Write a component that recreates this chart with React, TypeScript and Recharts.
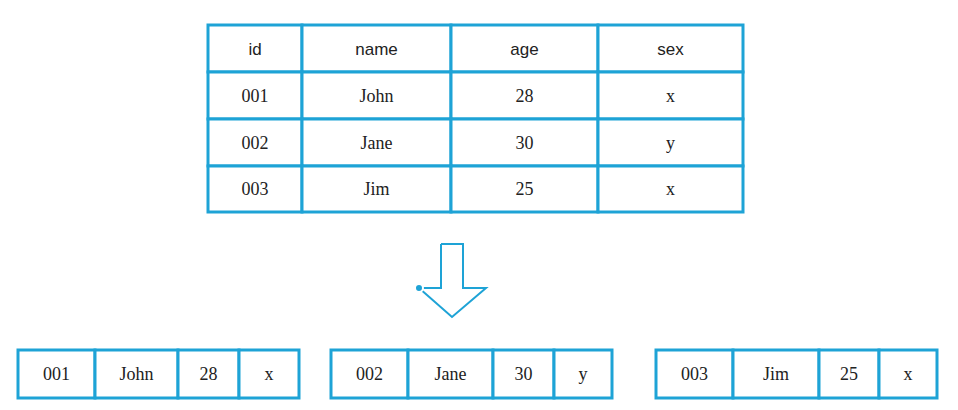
import React from 'react';
import { ComposedChart, Line, XAxis, YAxis, ReferenceArea } from 'recharts';

const BLUE = '#1ea3d6';

const headers = ['id', 'name', 'age', 'sex'];
const rows = [
  ['001', 'John', '28', 'x'],
  ['002', 'Jane', '30', 'y'],
  ['003', 'Jim', '25', 'x'],
];

// layout of the big table and the three small ones
const topCols = [208, 302, 451, 598, 743];
const topRows = [25, 72, 119, 166, 212];
const smallCols = [
  [18, 95, 178, 239, 299],
  [331, 408, 493, 554, 612],
  [656, 733, 819, 879, 937],
];
const smallY = [350, 398];

const arrow = [
  { x: 441, y: 244 }, { x: 463, y: 244 }, { x: 463, y: 288 }, { x: 486, y: 288 },
  { x: 452, y: 317 }, { x: 419, y: 288 }, { x: 441, y: 288 }, { x: 441, y: 244 },
];

const cell = (key: string, x1: number, x2: number, y1: number, y2: number, text: string, serif: boolean) => (
  <ReferenceArea
    key={key}
    x1={x1}
    x2={x2}
    y1={y1}
    y2={y2}
    fill="#fff"
    fillOpacity={1}
    stroke={BLUE}
    strokeWidth={3}
    ifOverflow="visible"
    label={{
      value: text,
      position: 'center',
      fill: '#222',
      fontSize: serif ? 18 : 17,
      fontFamily: serif ? '"Liberation Serif", serif' : '"Liberation Sans", Arial, sans-serif',
    }}
  />
);

export default function App() {
  const cells: React.ReactNode[] = [];
  headers.forEach((h, c) => cells.push(cell(`h${c}`, topCols[c], topCols[c + 1], topRows[0], topRows[1], h, false)));
  rows.forEach((r, ri) =>
    r.forEach((v, c) => cells.push(cell(`t${ri}${c}`, topCols[c], topCols[c + 1], topRows[ri + 1], topRows[ri + 2], v, true)))
  );
  rows.forEach((r, ri) =>
    r.forEach((v, c) => cells.push(cell(`s${ri}${c}`, smallCols[ri][c], smallCols[ri][c + 1], smallY[0], smallY[1], v, true)))
  );
  return (
    <div style={{ position: 'absolute', left: 0, top: 0, background: '#fff' }}>
      <ComposedChart width={958} height={410} data={arrow} margin={{ top: 0, right: 0, bottom: 0, left: 0 }}>
        <XAxis dataKey="x" type="number" domain={[0, 958]} hide />
        <YAxis type="number" domain={[0, 410]} reversed hide />
        {cells}
        <Line dataKey="y" type="linear" stroke={BLUE} strokeWidth={2} dot={false} isAnimationActive={false} />
      </ComposedChart>
    </div>
  );
}
